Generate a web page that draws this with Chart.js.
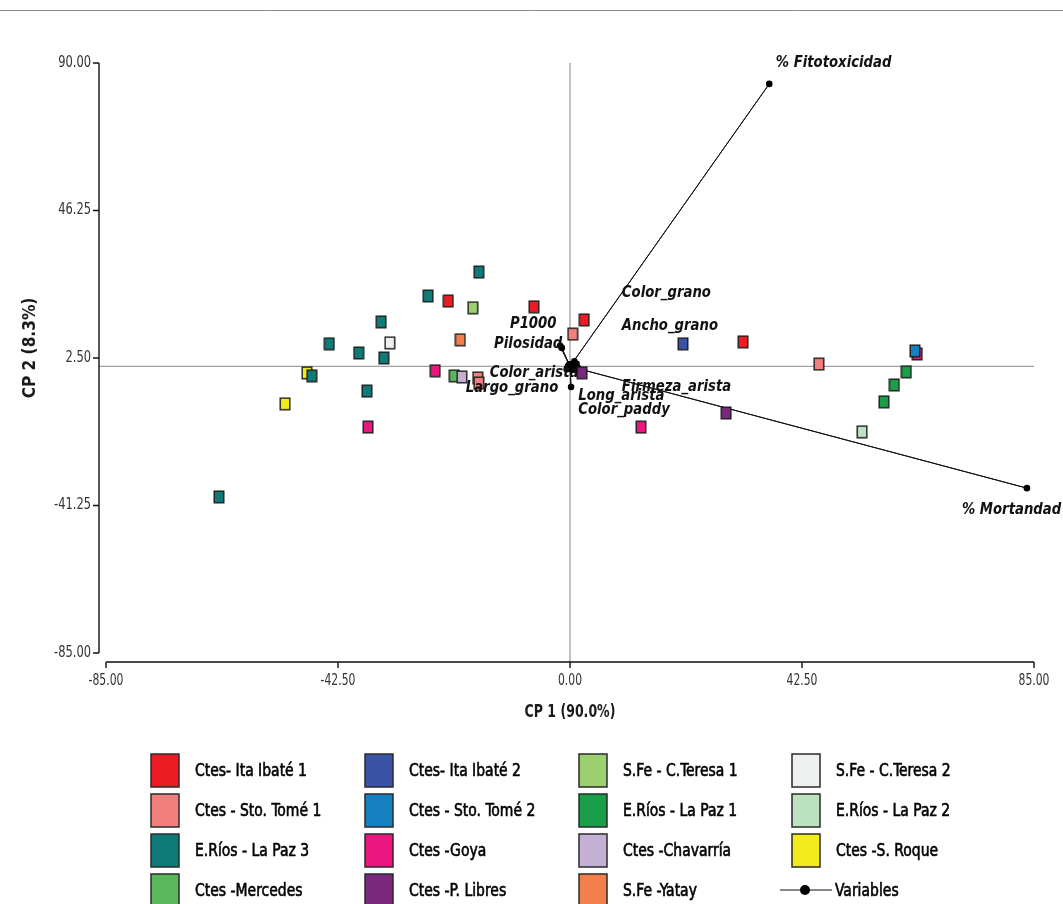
<!DOCTYPE html>
<html>
<head>
<meta charset="utf-8">
<title>Biplot CP 1 - CP 2</title>
<script src="https://cdn.jsdelivr.net/npm/chart.js@4.4.1/dist/chart.umd.min.js"></script>
<style>
    html, body { margin: 0; padding: 0; background: #fff; }
    canvas { display: block; }
</style>
</head>
<body>
<canvas id="biplot" width="1063" height="904"></canvas>
<script>
// marcas de los ejes
const xTicks = [-85, -42.5, 0, 42.5, 85];
const yTicks = [-85, -41.25, 2.5, 46.25, 90];

// localidades, en el orden de la leyenda (por filas)
const seriesNames = [
    'Ctes- Ita Ibaté 1', 'Ctes- Ita Ibaté 2', 'S.Fe - C.Teresa 1', 'S.Fe - C.Teresa 2',
    'Ctes - Sto. Tomé 1', 'Ctes - Sto. Tomé 2', 'E.Ríos - La Paz 1', 'E.Ríos - La Paz 2',
    'E.Ríos - La Paz 3', 'Ctes -Goya', 'Ctes -Chavarría', 'Ctes -S. Roque',
    'Ctes -Mercedes', 'Ctes -P. Libres', 'S.Fe -Yatay'
];
const seriesColors = [
    '#ed1c24', '#3a53a4', '#9ccf70', '#eeefef',
    '#f27e7e', '#1580c2', '#1a9f48', '#bde2bf',
    '#0f7b79', '#ec1680', '#c5b0d5', '#f3ea1b',
    '#5bb75b', '#7a287c', '#f3804a'
];

// puntajes [CP1, CP2] de cada muestra
const itaIbate1 = [[-22.3, 19.4], [-6.6, 17.7], [2.6, 13.8], [31.7, 7.3]];
const itaIbate2 = [[20.7, 6.7]];
const cTeresa1 = [[-17.8, 17.4]];
const cTeresa2 = [[-33.0, 7.0]];
const stoTome1 = [[-16.9, -3.4], [-16.7, -4.9], [0.5, 9.6], [45.6, 0.7]];
const stoTome2 = [[63.2, 4.6]];
const laPaz1 = [[57.5, -10.5], [59.4, -5.5], [61.6, -1.6]];
const laPaz2 = [[53.5, -19.4]];
const laPaz3 = [[-64.3, -38.7], [-47.3, -2.8], [-44.1, 6.7], [-38.7, 4.0], [-37.2, -7.3],
                [-34.6, 13.2], [-34.1, 2.5], [-26.0, 20.9], [-16.7, 28.0]];
const goya = [[-37.0, -18.0], [-24.7, -1.3], [13.0, -18.0], [63.6, 3.7]];
const chavarria = [[-19.8, -3.1]];
const sRoque = [[-52.2, -11.1], [-48.2, -1.9]];
const mercedes = [[-21.2, -2.8]];
const pLibres = [[2.2, -1.9], [28.6, -13.8]];
const yatay = [[-20.1, 7.9]];
const seriesPoints = [itaIbate1, itaIbate2, cTeresa1, cTeresa2, stoTome1, stoTome2, laPaz1, laPaz2,
                      laPaz3, goya, chavarria, sRoque, mercedes, pLibres, yatay];

// variables: extremo de cada vector
const varNames = ['% Fitotoxicidad', '% Mortandad', 'Color_grano', 'Ancho_grano', 'P1000', 'Pilosidad',
                  'Color_arista', 'Largo_grano', 'Firmeza_arista', 'Long_arista', 'Color_paddy'];
const varX = [36.5, 83.7, 0.8, 1.2, -1.8, -1.5, -0.5, -0.6, 1.5, 0.2, 0.6];
const varY = [83.8, -36.1, 1.5, 0.8, 6.1, 5.5, -0.4, -0.8, -0.5, -6.1, -0.9];
// donde va el rótulo de cada variable (en unidades de los ejes)
const labelX = [37.7, 71.8, 9.5, 9.5, -11.0, -13.9, -14.7, -19.1, 9.5, 1.5, 1.5];
const labelY = [90.1, -42.6, 21.8, 12.0, 12.6, 6.7, -1.9, -6.4, -6.1, -8.8, -12.9];

const NARROW = "'Liberation Sans Narrow', 'DejaVu Sans Condensed', 'Arial Narrow', sans-serif";

// marcador cuadrado (un poco más alto que ancho)
function squareMarker(color) {
    const c = document.createElement('canvas');
    c.width = 12;
    c.height = 14;
    const g = c.getContext('2d');
    g.fillStyle = color;
    g.fillRect(1, 1, 10, 12);
    g.strokeStyle = '#1e1e1e';
    g.lineWidth = 1.4;
    g.strokeRect(1.2, 1.2, 9.6, 11.6);
    return c;
}

// texto comprimido a lo ancho (la fuente original es tipo "narrow")
function narrowText(ctx, text, x, y, align, sx, stroke) {
    ctx.save();
    ctx.translate(x, y);
    ctx.scale(sx, 1);
    ctx.textAlign = align;
    ctx.fillText(text, 0, 0);
    if (stroke) {
        ctx.strokeStyle = ctx.fillStyle;
        ctx.lineWidth = stroke;
        ctx.strokeText(text, 0, 0);
    }
    ctx.restore();
}

const datasets = seriesNames.map((name, i) => ({
    label: name,
    data: seriesPoints[i].map(p => ({ x: p[0], y: p[1] })),
    pointStyle: squareMarker(seriesColors[i]),
    pointRadius: 6,
    backgroundColor: seriesColors[i]
}));

// vectores: origen -> extremo -> origen -> extremo ...
const vectorData = [];
varNames.forEach((n, i) => {
    vectorData.push({ x: 0, y: 0 });
    vectorData.push({ x: varX[i], y: varY[i] });
});
datasets.push({
    label: 'Variables',
    data: vectorData,
    showLine: true,
    borderColor: '#111',
    borderWidth: 1,
    backgroundColor: '#000',
    pointBorderWidth: 0,
    pointRadius: ctx => (ctx.dataIndex % 2 === 0 ? 5 : 3.3)
});

// líneas de referencia, ejes, títulos, rótulos y leyenda
const decorPlugin = {
    id: 'decor',
    beforeDraw(chart) {
        const ctx = chart.ctx;
        ctx.save();
        ctx.strokeStyle = '#8a8a8a';
        ctx.lineWidth = 1;
        ctx.beginPath();
        ctx.moveTo(0, 10.5);
        ctx.lineTo(chart.width, 10.5);
        ctx.stroke();
        ctx.restore();
    },
    beforeDatasetsDraw(chart) {
        const { ctx, chartArea, scales } = chart;
        const x0 = scales.x.getPixelForValue(0);
        const y0 = scales.y.getPixelForValue(0);
        ctx.save();
        ctx.strokeStyle = '#a0a0a0';
        ctx.lineWidth = 1.3;
        ctx.beginPath();
        ctx.moveTo(x0, chartArea.top);
        ctx.lineTo(x0, chartArea.bottom + 9);
        ctx.moveTo(chartArea.left - 7, y0);
        ctx.lineTo(chartArea.right, y0);
        ctx.stroke();
        ctx.restore();
    },
    afterDatasetsDraw(chart) {
        const { ctx, scales } = chart;
        ctx.save();
        ctx.fillStyle = '#111';
        ctx.font = 'italic bold 16px ' + NARROW;
        ctx.textBaseline = 'middle';
        varNames.forEach((n, i) => {
            narrowText(ctx, n, scales.x.getPixelForValue(labelX[i]), scales.y.getPixelForValue(labelY[i]), 'left', 0.92);
        });
        ctx.restore();
    },
    afterDraw(chart) {
        const { ctx, chartArea, scales } = chart;
        ctx.save();

        // ejes separados del área de graficación
        const axX = chartArea.left - 7;
        const axY = chartArea.bottom + 9;
        ctx.strokeStyle = '#111';
        ctx.lineWidth = 1.4;
        ctx.beginPath();
        ctx.moveTo(axX, scales.y.getPixelForValue(yTicks[yTicks.length - 1]));
        ctx.lineTo(axX, scales.y.getPixelForValue(yTicks[0]));
        yTicks.forEach(v => {
            const py = scales.y.getPixelForValue(v);
            ctx.moveTo(axX, py);
            ctx.lineTo(axX - 6, py);
        });
        ctx.moveTo(scales.x.getPixelForValue(xTicks[0]), axY);
        ctx.lineTo(scales.x.getPixelForValue(xTicks[xTicks.length - 1]), axY);
        xTicks.forEach(v => {
            const px = scales.x.getPixelForValue(v);
            ctx.moveTo(px, axY);
            ctx.lineTo(px, axY + 6);
        });
        ctx.stroke();

        // rótulos de las marcas
        ctx.fillStyle = '#333';
        ctx.font = '15px ' + NARROW;
        ctx.textBaseline = 'middle';
        yTicks.forEach(v => {
            narrowText(ctx, v.toFixed(2), axX - 8, scales.y.getPixelForValue(v), 'right', 0.85);
        });
        xTicks.forEach(v => {
            narrowText(ctx, v.toFixed(2), scales.x.getPixelForValue(v), 681, 'center', 0.8);
        });

        // títulos de los ejes
        ctx.fillStyle = '#1a1a1a';
        ctx.font = 'bold 17px ' + NARROW;
        narrowText(ctx, 'CP 1 (90.0%)', scales.x.getPixelForValue(0), 713, 'center', 0.82);
        ctx.save();
        ctx.translate(30, 348);
        ctx.rotate(-Math.PI / 2);
        ctx.font = 'bold 18px ' + NARROW;
        narrowText(ctx, 'CP 2 (8.3%)', 0, 0, 'center', 0.95);
        ctx.restore();

        // leyenda en 4 columnas
        const colX = [151, 365, 579, 792];
        const rowY = [770, 810, 850, 890];
        ctx.font = '18px ' + NARROW;
        const sx = 112 / ctx.measureText('Ctes- Ita Ibaté 1').width;
        seriesNames.forEach((name, i) => {
            const cx = colX[i % 4];
            const cy = rowY[Math.floor(i / 4)];
            ctx.fillStyle = seriesColors[i];
            ctx.fillRect(cx, cy - 16, 28, 33);
            ctx.strokeStyle = '#2a2a2a';
            ctx.lineWidth = 1.5;
            ctx.strokeRect(cx, cy - 16, 28, 33);
            ctx.fillStyle = '#000';
            narrowText(ctx, name, cx + 44, cy + 1, 'left', sx, 0.6);
        });
        // entrada "Variables"
        const vx = colX[3] - 12;
        const vy = rowY[3];
        ctx.strokeStyle = '#111';
        ctx.lineWidth = 1;
        ctx.beginPath();
        ctx.moveTo(vx, vy);
        ctx.lineTo(vx + 52, vy);
        ctx.stroke();
        ctx.fillStyle = '#000';
        ctx.beginPath();
        ctx.arc(vx + 25, vy, 5, 0, Math.PI * 2);
        ctx.fill();
        narrowText(ctx, 'Variables', vx + 55, vy + 1, 'left', sx, 0.6);

        ctx.restore();
    }
};

new Chart(document.getElementById('biplot').getContext('2d'), {
    type: 'scatter',
    data: { datasets },
    options: {
        responsive: false,
        animation: false,
        layout: { padding: { top: 63, right: 29, left: 0, bottom: 0 } },
        plugins: {
            legend: { display: false },
            tooltip: { enabled: false }
        },
        scales: {
            x: {
                type: 'linear',
                min: -85,
                max: 85,
                afterFit: s => { s.height = 251; s.paddingLeft = 0; s.paddingRight = 0; },
                afterBuildTicks: s => { s.ticks = xTicks.map(v => ({ value: v })); },
                grid: { display: false, drawTicks: false },
                border: { display: false },
                ticks: { display: false }
            },
            y: {
                type: 'linear',
                min: -85,
                max: 90,
                afterFit: s => { s.width = 106; s.paddingTop = 0; s.paddingBottom = 0; },
                afterBuildTicks: s => { s.ticks = yTicks.map(v => ({ value: v })); },
                grid: { display: false, drawTicks: false },
                border: { display: false },
                ticks: { display: false }
            }
        }
    },
    plugins: [decorPlugin]
});
</script>
</body>
</html>
